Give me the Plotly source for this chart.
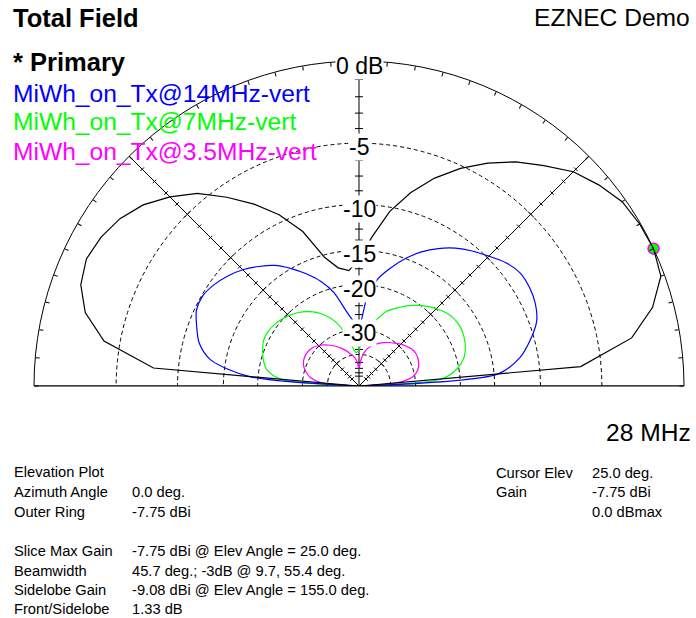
import numpy as np
import plotly.graph_objects as go

# ---------------- data (dB relative to outer ring = -7.75 dBi) ----------------
angles = list(range(0, 181, 5))  # elevation angle, degrees

primary_db = [-99, -6.5, -2.75, -1.15, -0.2, 0.0, -0.05, -0.2, -0.65, -1.2,
              -2.1, -2.95, -4.0, -5.2, -6.6, -8.3, -10.4, -13.3, -16.1,
              -17.7, -17.1, -15.3, -11.7, -9.3, -7.5, -5.9, -4.4, -3.35,
              -2.45, -1.85, -1.5, -1.33, -1.6, -2.35, -3.9, -7.8, -99]

mhz14_db = [-99, -14.5, -11.8, -10.4, -9.3, -8.8, -8.6, -8.6, -9.05, -9.8,
            -10.5, -11.3, -12.3, -13.5, -15.0, -16.8, -18.8, -22.5, -29.0,
            -27.5, -24.7, -20.8, -18.4, -16.6, -15.0, -13.6, -12.6, -11.7,
            -11.0, -10.45, -10.1, -10.2, -10.85, -11.6, -13.2, -18.5, -99]

mhz7_db = [-99, -23.3, -20.3, -18.8, -18.1, -17.7, -17.5, -17.6, -18.0, -18.7,
           -19.5, -20.5, -21.6, -22.9, -24.2, -26.6, -29.2, -32.3, -37.5,
           -39.0, -35.8, -30.4, -26.8, -24.6, -23.0, -21.9, -21.0, -20.3,
           -19.8, -19.4, -19.2, -19.3, -19.8, -20.4, -21.4, -24.5, -99]

mhz35_db = [-99, -36.5, -30.5, -28.8, -28.0, -27.6, -27.5, -27.8, -28.5, -29.2,
            -30.2, -31.1, -32.1, -33.2, -34.4, -35.8, -38.0, -42.0, -50.0,
            -44.0, -41.0, -39.2, -37.0, -35.3, -33.7, -32.2, -30.9, -29.8,
            -29.0, -28.6, -28.5, -28.7, -29.3, -30.5, -32.3, -37.0, -99]

series_names = ["MiWh_on_Tx@14MHz-vert", "MiWh_on_Tx@7MHz-vert", "MiWh_on_Tx@3.5MHz-vert"]
series_colors = ["#0000FF", "#00FF00", "#FF00FF"]

ring_db = [-5, -10, -15, -20, -30, -40]
ring_labels = ["-5", "-10", "-15", "-20", "-30", None]
tick_db = [-1, -2, -3, -4, -6.25, -7.5, -8.75, -11.25, -12.5, -13.75,
           -16.25, -17.5, -18.75, -22, -24, -26, -28, -32.5, -35, -37.5,
           -45, -50, -55, -60]
cursor_angle = 25.0
cursor_db = 0.0

# ---------------- geometry ----------------
W, H = 696, 618
CX, CY, RPX = 359, 386, 325  # centre & outer radius in pixels


def arrl(db):
    """ARRL log scale: 0.89 per 2 dB."""
    return 0.89 ** (-np.asarray(db, dtype=float) / 2.0)


def px(x):
    return x / W


def py(y):
    return 1 - y / H


def seg_trace(points, width=1):
    """Line segments from (r, theta) anchors plus cartesian pixel offsets."""
    rs, ths = [], []
    for (r0, th0, dx0, dy0, dx1, dy1) in points:
        x = r0 * np.cos(np.radians(th0))
        y = r0 * np.sin(np.radians(th0))
        for dx, dy in ((dx0, dy0), (dx1, dy1)):
            xx = x + dx / RPX
            yy = y + dy / RPX
            rs.append(float(np.hypot(xx, yy)))
            ths.append(float(np.degrees(np.arctan2(yy, xx))))
        rs.append(None)
        ths.append(None)
    return go.Scatterpolar(r=rs, theta=ths, mode="lines",
                           line=dict(color="black", width=width),
                           hoverinfo="skip", showlegend=False, cliponaxis=False)


fig = go.Figure()

# axis lines: baseline, vertical, diagonals
fig.add_trace(go.Scatterpolar(r=[1, 0, 1], theta=[0, 0, 180], mode="lines",
                              line=dict(color="black", width=1), hoverinfo="skip",
                              showlegend=False, cliponaxis=False))
fig.add_trace(go.Scatterpolar(r=[0, 1], theta=[90, 90], mode="lines",
                              line=dict(color="black", width=1), hoverinfo="skip",
                              showlegend=False))
fig.add_trace(go.Scatterpolar(r=[1, 0, 1], theta=[45, 0, 135], mode="lines",
                              line=dict(color="black", width=1), hoverinfo="skip",
                              showlegend=False))

# ticks
pts = []
all_ticks = [(d, False) for d in tick_db] + [(d, True) for d in ring_db]
s = np.sqrt(0.5)
for d, major in all_ticks:
    r = float(arrl(d))
    if not major:
        pts.append((r, 90, -4, 0, 4, 0))
    L = 7 if major else 4
    pts.append((r, 0, 0, 0, 0, -L))
    pts.append((r, 180, 0, 0, 0, -L))
    h = 4 if major else 2.5
    pts.append((r, 45, -h * s, h * s, h * s, -h * s))
    pts.append((r, 135, h * s, h * s, -h * s, -h * s))
fig.add_trace(seg_trace(pts))

# cursor marker
fig.add_trace(go.Scatterpolar(r=arrl([cursor_db]), theta=[cursor_angle], mode="markers",
                              marker=dict(size=11, color="#00FF00",
                                          line=dict(color="#FF00FF", width=1.5)),
                              hoverinfo="skip", showlegend=False))

# patterns
for db, name, col in zip([mhz35_db, mhz7_db, mhz14_db],
                         series_names[::-1], series_colors[::-1]):
    fig.add_trace(go.Scatterpolar(r=arrl(db), theta=angles, mode="lines", name=name,
                                  line=dict(color=col, width=1.2, shape="spline",
                                            smoothing=0.8),
                                  showlegend=False))
fig.add_trace(go.Scatterpolar(r=arrl(primary_db), theta=angles, mode="lines",
                              name="Primary", line=dict(color="black", width=1.2),
                              showlegend=False))

FONT = "Arial, Liberation Sans, sans-serif"

fig.update_layout(
    width=W, height=H, margin=dict(l=0, r=0, t=0, b=0),
    paper_bgcolor="white", plot_bgcolor="white",
    font=dict(family=FONT, color="black"),
    polar=dict(
        domain=dict(x=[px(CX - RPX), px(CX + RPX)],
                    y=[py(CY), py(CY - RPX)]),
        sector=[0, 180],
        bgcolor="white",
        radialaxis=dict(range=[0, 1], angle=90, showline=False,
                        tickvals=list(arrl(ring_db)), showticklabels=False, ticks="",
                        showgrid=True, gridcolor="black", gridwidth=1, griddash="4px,3px"),
        angularaxis=dict(rotation=0, direction="counterclockwise",
                         showline=True, linecolor="black", linewidth=1,
                         showgrid=False, showticklabels=False,
                         ticks="inside", ticklen=4, tickcolor="black", tickwidth=1,
                         tickvals=list(range(0, 181, 5))),
    ),
)

ann = []


def text(x, y, s, size, color="black", xanchor="left", bold=False, bg=None):
    ann.append(dict(x=px(x), y=py(y), xref="paper", yref="paper",
                    text=("<b>%s</b>" % s) if bold else s,
                    showarrow=False, xanchor=xanchor, yanchor="middle",
                    font=dict(size=size, color=color, family=FONT),
                    bgcolor=bg, borderpad=0))


# ring labels on vertical axis
text(CX, CY - RPX + 5, "0 dB", 23, xanchor="center", bg="white")
for d, lab in zip(ring_db, ring_labels):
    if lab:
        text(CX, CY - RPX * float(arrl(d)) + 4, lab, 23, xanchor="center", bg="white")

BIG = 24.6
text(12, 18, "Total Field", 25.5, bold=True)
text(691, 18, "EZNEC Demo", BIG, xanchor="right")
text(12, 62, "* Primary", 25.5, bold=True)
for i, (n, c) in enumerate(zip(series_names, series_colors)):
    text(12, [94, 122, 151][i], n, BIG, color=c)
text(692, 432, "28 MHz", BIG, xanchor="right")

SMALL = 14.7
info_left = [("Elevation Plot", ""), ("Azimuth Angle", "0.0 deg."), ("Outer Ring", "-7.75 dBi"),
             ("", ""), ("Slice Max Gain", "-7.75 dBi @ Elev Angle = 25.0 deg."),
             ("Beamwidth", "45.7 deg.; -3dB @ 9.7, 55.4 deg."),
             ("Sidelobe Gain", "-9.08 dBi @ Elev Angle = 155.0 deg."),
             ("Front/Sidelobe", "1.33 dB")]
info_y = [472, 492, 512, 531, 551, 571, 590, 609]
for (a, b), y in zip(info_left, info_y):
    if a:
        text(13, y, a, SMALL)
    if b:
        text(131, y, b, SMALL)
info_right = [("Cursor Elev", "25.0 deg."), ("Gain", "-7.75 dBi"), ("", "0.0 dBmax")]
for (a, b), y in zip(info_right, [473, 492, 512]):
    if a:
        text(495, y, a, SMALL)
    text(591, y, b, SMALL)

fig.update_layout(annotations=ann)
fig.write_html("out.html", config={"displayModeBar": False},
               post_script="document.body.style.margin='0';"
                           "document.body.style.overflow='hidden';")
